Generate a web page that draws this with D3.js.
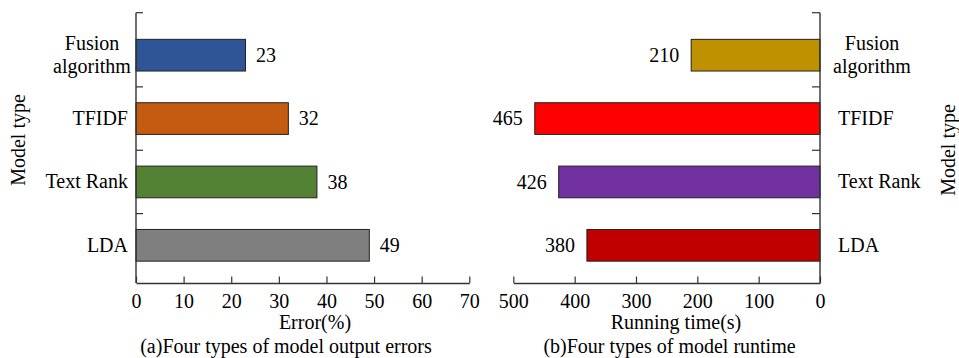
<!DOCTYPE html>
<html>
<head>
<meta charset="utf-8">
<script src="https://cdn.jsdelivr.net/npm/d3@7/dist/d3.min.js"></script>
<style>
  html, body { margin: 0; padding: 0; background: #fff; }
  svg { display: block; }
</style>
</head>
<body>
<svg id="chart" width="959" height="358" font-family="Liberation Serif, Times New Roman, Times, DejaVu Serif, serif"></svg>
<script>
// Model names (top to bottom) and the two measured quantities
const models = ["Fusion algorithm", "TFIDF", "Text Rank", "LDA"];
const errorValues = [23, 32, 38, 49];          // output error, %
const runtimeValues = [210, 465, 426, 380];    // running time, s
const errorColors = ["#2F5597", "#C55A11", "#548235", "#7F7F7F"];
const runtimeColors = ["#BF9000", "#FF0000", "#7030A0", "#C00000"];
const errorTicks = [0, 10, 20, 30, 40, 50, 60, 70];
const runtimeTicks = [500, 400, 300, 200, 100, 0];

const svg = d3.select("#chart");
const FONT = 20;
const SERIF = "'Liberation Serif', 'Times New Roman', Times, 'DejaVu Serif', serif";
const axisColor = "#333";

const yTop = 12.7, yBottom = 283;
const y = d3.scaleBand().domain(models).range([23.5, 277]).paddingInner(0.5).paddingOuter(0.25);
const bw = y.bandwidth();
// separator ticks between category bands, plus the top end of the axis
const sepTicks = [yTop].concat(models.slice(0, -1).map(m => y(m) + bw + (y.step() - bw) / 2));

function txt(g) {
  return g.append("text").style("font-family", SERIF).style("font-size", FONT + "px").attr("fill", "#000");
}

function label(g, x, cy, name, anchor, multiX) {
  const parts = name === "Fusion algorithm" ? ["Fusion", "algorithm"] : [name];
  if (parts.length === 1) {
    txt(g).attr("x", x).attr("y", cy + 6.2).attr("text-anchor", anchor).text(name);
  } else {
    const t = txt(g).attr("text-anchor", "middle");
    t.append("tspan").attr("x", multiX).attr("y", cy - 5.5).text(parts[0]);
    t.append("tspan").attr("x", multiX).attr("y", cy + 17.5).text(parts[1]);
  }
}

function styleAxis(xa) {
  xa.attr("font-family", null).attr("font-size", null);
  xa.select(".domain").attr("stroke", axisColor).attr("stroke-width", 1.4);
  xa.selectAll(".tick line").attr("stroke", axisColor).attr("stroke-width", 1.2);
  xa.selectAll(".tick text").style("font-family", SERIF).style("font-size", FONT + "px")
    .attr("fill", "#000").attr("y", 0).attr("dy", 25.3);
}

// ---------- (a) output errors ----------
{
  const x0 = 136, x1 = 469.3;
  const x = d3.scaleLinear().domain([0, 70]).range([x0, x1]);
  const g = svg.append("g");

  g.selectAll("rect").data(models).join("rect")
    .attr("x", x(0)).attr("y", d => y(d))
    .attr("width", (d, i) => x(errorValues[i]) - x(0)).attr("height", bw)
    .attr("fill", (d, i) => errorColors[i])
    .attr("stroke", "#222").attr("stroke-width", 1);

  models.forEach((m, i) => {
    txt(g).attr("x", x(errorValues[i]) + 10.5).attr("y", y(m) + bw / 2 + 6.8).text(errorValues[i]);
  });

  const xa = g.append("g").attr("transform", `translate(0,${yBottom})`)
    .call(d3.axisBottom(x).tickValues(errorTicks).tickSizeInner(-6.5).tickSizeOuter(0).tickPadding(0));
  styleAxis(xa);

  // y axis line and separator ticks
  g.append("line").attr("x1", x0).attr("x2", x0).attr("y1", yTop).attr("y2", yBottom)
    .attr("stroke", axisColor).attr("stroke-width", 1.4);
  g.selectAll("line.sep").data(sepTicks).join("line").attr("class", "sep")
    .attr("x1", x0).attr("x2", x0 + 7).attr("y1", d => d).attr("y2", d => d)
    .attr("stroke", axisColor).attr("stroke-width", 1.2);

  models.forEach(m => label(g, 128, y(m) + bw / 2, m, "end", 92));

  txt(g).attr("x", 315).attr("y", 329).attr("text-anchor", "middle").text("Error(%)");
  txt(g).attr("x", 286).attr("y", 353).attr("text-anchor", "middle").text("(a)Four types of model output errors");
  txt(g).attr("transform", "translate(24.5,140) rotate(-90)").attr("text-anchor", "middle").text("Model type");
}

// ---------- (b) running time ----------
{
  const x0 = 513.3, x1 = 820;
  const x = d3.scaleLinear().domain([500, 0]).range([x0, x1]);
  const g = svg.append("g");

  g.selectAll("rect").data(models).join("rect")
    .attr("x", (d, i) => x(runtimeValues[i])).attr("y", d => y(d))
    .attr("width", (d, i) => x(0) - x(runtimeValues[i])).attr("height", bw)
    .attr("fill", (d, i) => runtimeColors[i])
    .attr("stroke", "#222").attr("stroke-width", 1);

  models.forEach((m, i) => {
    txt(g).attr("x", x(runtimeValues[i]) - 12).attr("y", y(m) + bw / 2 + 6.8)
      .attr("text-anchor", "end").text(runtimeValues[i]);
  });

  const xa = g.append("g").attr("transform", `translate(0,${yBottom})`)
    .call(d3.axisBottom(x).tickValues(runtimeTicks).tickSizeInner(-6.5).tickSizeOuter(0).tickPadding(0));
  styleAxis(xa);

  g.append("line").attr("x1", x1).attr("x2", x1).attr("y1", yTop).attr("y2", yBottom)
    .attr("stroke", axisColor).attr("stroke-width", 1.4);
  g.selectAll("line.sep").data(sepTicks).join("line").attr("class", "sep")
    .attr("x1", x1).attr("x2", x1 - 8).attr("y1", d => d).attr("y2", d => d)
    .attr("stroke", axisColor).attr("stroke-width", 1.2);

  models.forEach(m => label(g, 838, y(m) + bw / 2, m, "start", 872));

  txt(g).attr("x", 676).attr("y", 329).attr("text-anchor", "middle").text("Running time(s)");
  txt(g).attr("x", 669.5).attr("y", 353).attr("text-anchor", "middle").text("(b)Four types of model runtime");
  txt(g).attr("transform", "translate(955,150) rotate(-90)").attr("text-anchor", "middle").text("Model type");
}
</script>
</body>
</html>
